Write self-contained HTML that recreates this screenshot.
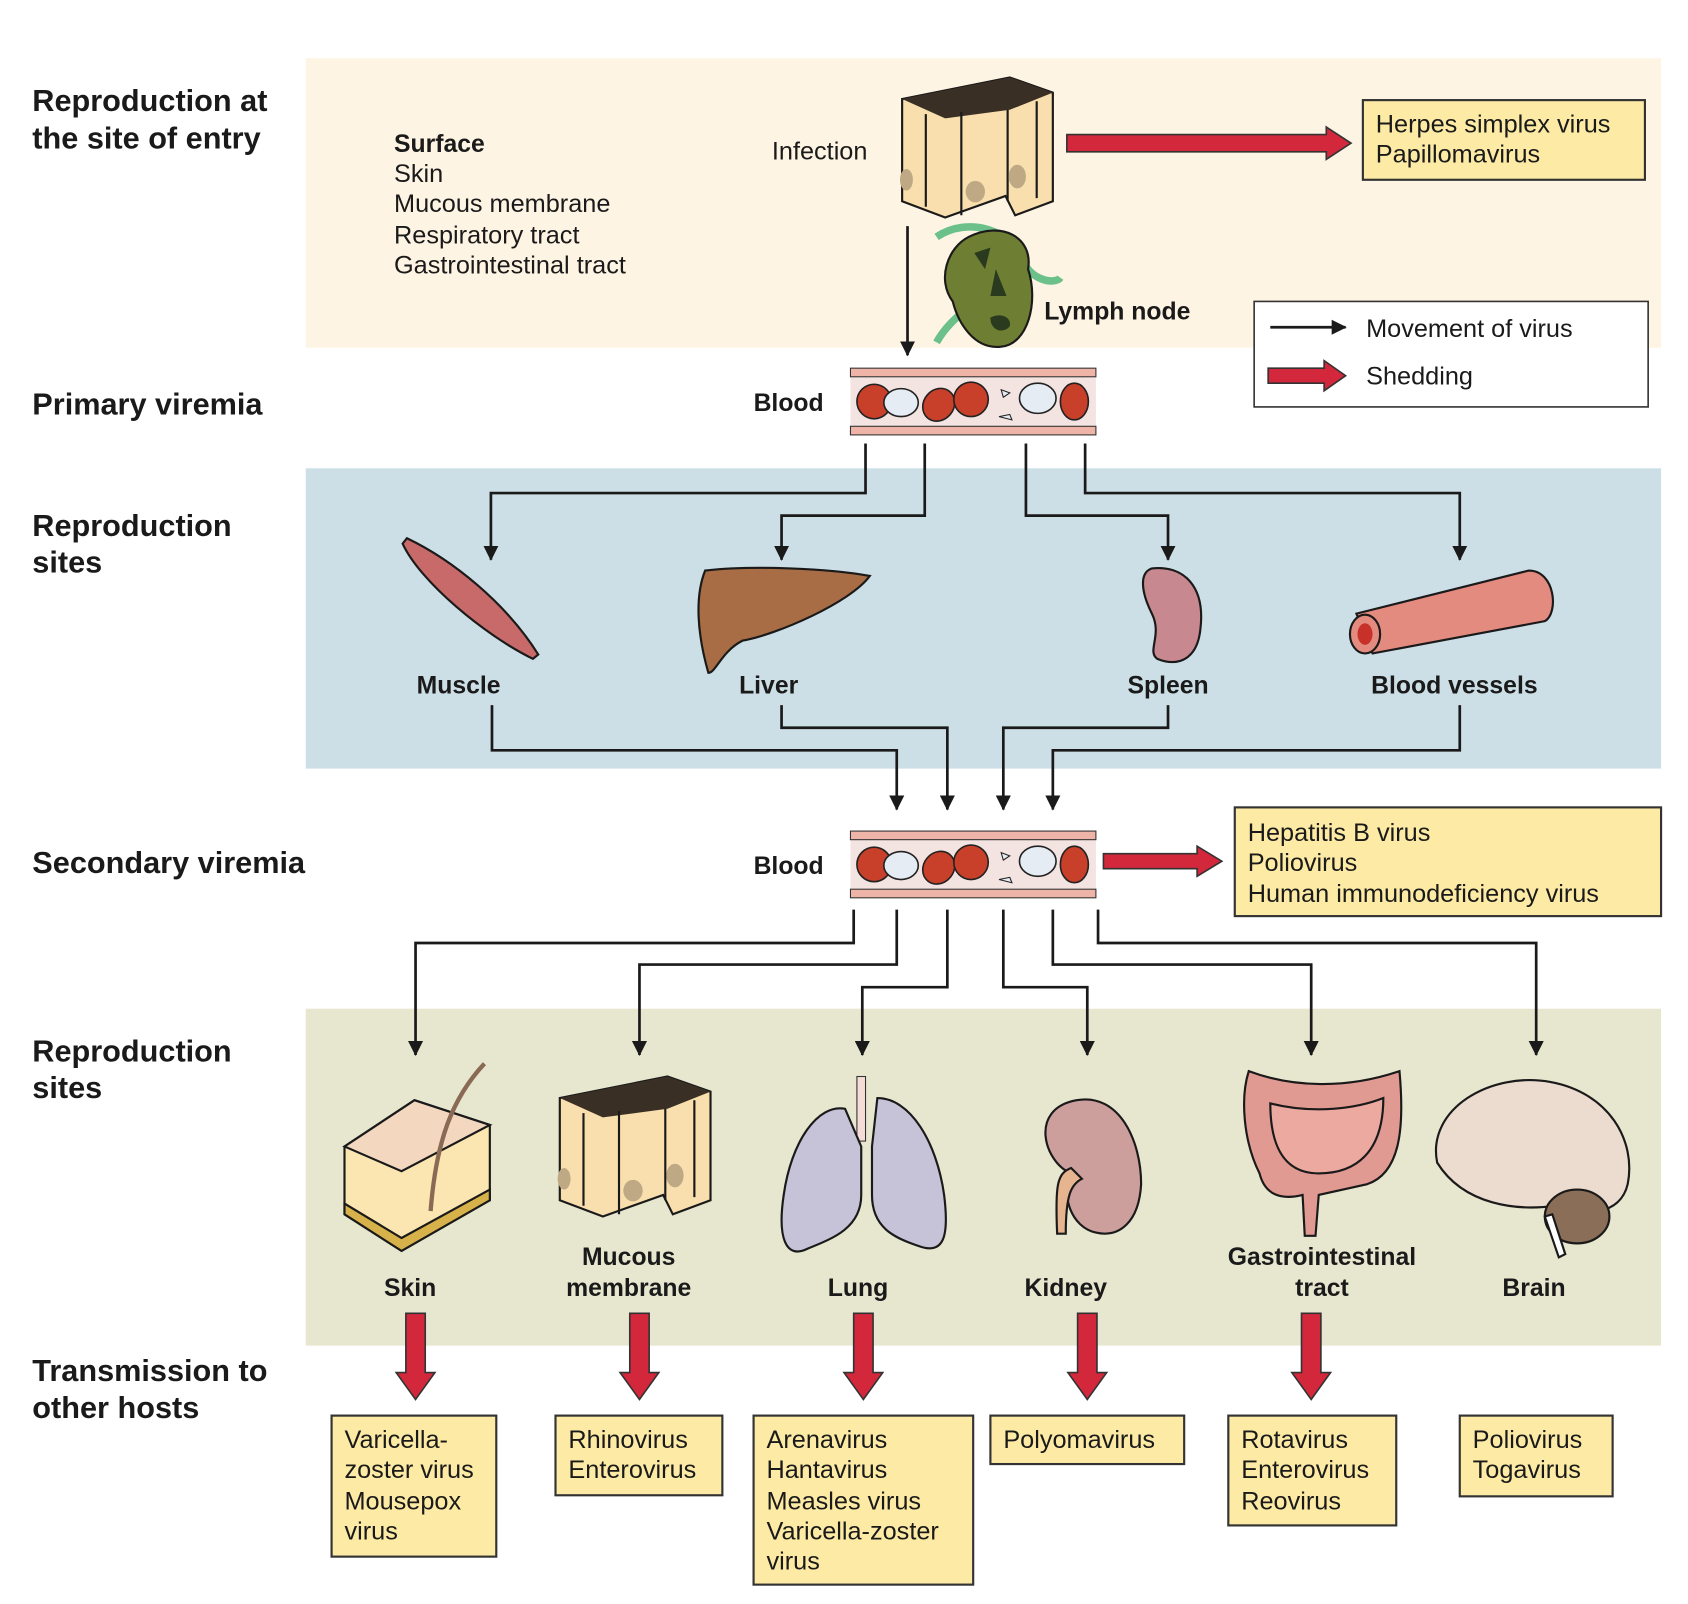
<!DOCTYPE html>
<html><head><meta charset="utf-8"><style>
html,body{margin:0;padding:0;background:#fff}
svg{display:block}
text{font-family:"Liberation Sans",sans-serif;fill:#1a1a1a}
.h{font-size:28.5px;font-weight:bold}
.b{font-size:23.5px}
.lb{font-size:23px;font-weight:bold}
.box{fill:#fdeba5;stroke:#333;stroke-width:2}
.ln{stroke:#1a1a1a;stroke-width:2.5;fill:none}
.red{fill:#d3283c;stroke:#333;stroke-width:1.5}
.org{stroke:#1a1a1a;stroke-width:2}
</style></head><body>
<svg width="1688" height="1604" viewBox="0 0 1568 1490" xmlns="http://www.w3.org/2000/svg">
<defs>
<marker id="ah" markerWidth="14" markerHeight="14" refX="13" refY="7" orient="auto" markerUnits="userSpaceOnUse" viewBox="0 0 14 14">
<path d="M0,0 L14,7 L0,14 z" fill="#1a1a1a"/></marker>
<g id="blood">
<rect x="0" y="0" width="228" height="62" fill="#f3e4e2"/>
<rect x="0" y="0" width="228" height="8" fill="#eeb4a8" stroke="#333" stroke-width="1"/>
<rect x="0" y="54" width="228" height="8" fill="#eeb4a8" stroke="#333" stroke-width="1"/>
<ellipse cx="22" cy="31" rx="16" ry="16" fill="#c8402a" stroke="#222" stroke-width="1.5"/>
<ellipse cx="47" cy="32" rx="16" ry="13" fill="#e6ecf4" stroke="#222" stroke-width="1.5"/>
<ellipse cx="82" cy="34" rx="14" ry="16" fill="#c8402a" stroke="#222" stroke-width="1.5" transform="rotate(40 82 34)"/>
<ellipse cx="112" cy="29" rx="16" ry="16" fill="#c8402a" stroke="#222" stroke-width="1.5"/>
<ellipse cx="174" cy="28" rx="17" ry="14" fill="#e6ecf4" stroke="#222" stroke-width="1.5"/>
<ellipse cx="208" cy="31" rx="13" ry="17" fill="#c8402a" stroke="#222" stroke-width="1.5"/>
<path d="M140,20 l8,3 l-6,4 z M138,45 l10,-2 l2,5 z" fill="#e6ecf4" stroke="#222"/>
</g>
<g id="epi">
<path d="M0,20 L100,0 L140,14 L140,115 L105,128 L96,110 L40,130 L0,115 z" fill="#f9dfae" stroke="#1a1a1a" stroke-width="2"/>
<path d="M0,20 L100,0 L140,14 L100,30 L40,38 z" fill="#3a2f25"/>
<path d="M22,34 V120 M55,32 V128 M98,30 V115 M125,22 V112" stroke="#1a1a1a" stroke-width="2" fill="none"/>
<ellipse cx="68" cy="106" rx="9" ry="10" fill="#bfa984"/>
<ellipse cx="107" cy="92" rx="8" ry="11" fill="#bfa984"/>
<ellipse cx="4" cy="95" rx="6" ry="10" fill="#bfa984"/>
</g>
<g id="dn"><path d="M-9,0 H9 V55 H18 L0,80 L-18,55 H-9 z" class="red"/></g>
</defs>

<rect x="284" y="54" width="1259" height="269" fill="#fef4e3"/>
<rect x="284" y="435" width="1259" height="279" fill="#cddfe6"/>
<rect x="284" y="937" width="1259" height="313" fill="#e7e6cf"/>

<text class="h" x="30" y="103">Reproduction at</text>
<text class="h" x="30" y="138">the site of entry</text>
<text class="h" x="30" y="385">Primary viremia</text>
<text class="h" x="30" y="498">Reproduction</text>
<text class="h" x="30" y="532">sites</text>
<text class="h" x="30" y="811">Secondary viremia</text>
<text class="h" x="30" y="986">Reproduction</text>
<text class="h" x="30" y="1020">sites</text>
<text class="h" x="30" y="1283">Transmission to</text>
<text class="h" x="30" y="1317">other hosts</text>

<text class="lb" x="366" y="141">Surface</text>
<text class="b" x="366" y="169">Skin</text>
<text class="b" x="366" y="197">Mucous membrane</text>
<text class="b" x="366" y="226">Respiratory tract</text>
<text class="b" x="366" y="254">Gastrointestinal tract</text>
<text class="b" x="717" y="148">Infection</text>

<use href="#epi" x="838" y="72"/>
<path d="M991,125 H1232 V118 L1255,133 L1232,148 V141 H991 z" class="red"/>
<rect class="box" x="1266" y="93" width="262" height="74"/>
<text class="b" x="1278" y="123">Herpes simplex virus</text>
<text class="b" x="1278" y="151">Papillomavirus</text>

<line class="ln" x1="843" y1="210" x2="843" y2="330" marker-end="url(#ah)"/>
<path d="M870,220 C900,200 940,215 950,240 C955,260 980,265 985,258 M870,318 C880,300 895,290 905,280" stroke="#6cc08a" stroke-width="7" fill="none"/>
<path d="M900,220 C930,205 960,220 955,250 C965,280 955,320 930,322 C905,325 890,300 885,280 C870,260 880,230 900,220 z" fill="#6e7e32" stroke="#1a1a1a" stroke-width="2"/>
<path d="M905,235 l15,-5 l-5,20 z M925,250 l10,25 l-15,0 z M920,295 c10,-5 20,0 18,8 c-5,7 -18,5 -18,-8 z" fill="#2a3a1e"/>
<text class="lb" x="970" y="297">Lymph node</text>

<rect x="1165" y="280" width="366" height="98" fill="#fff" stroke="#333" stroke-width="1.5"/>
<line class="ln" x1="1180" y1="304" x2="1250" y2="304" marker-end="url(#ah)"/>
<text class="b" x="1269" y="313">Movement of virus</text>
<path d="M1178,342 H1230 V335 L1250,349 L1230,363 V356 H1178 z" class="red"/>
<text class="b" x="1269" y="357">Shedding</text>

<use href="#blood" x="790" y="342"/>
<text class="lb" x="700" y="382">Blood</text>

<path class="ln" d="M804,412 V458 H456 V520" marker-end="url(#ah)"/>
<path class="ln" d="M859,412 V479 H726 V520" marker-end="url(#ah)"/>
<path class="ln" d="M953,412 V479 H1085 V520" marker-end="url(#ah)"/>
<path class="ln" d="M1008,412 V458 H1356 V520" marker-end="url(#ah)"/>

<path d="M378,500 C420,520 470,560 500,608 L495,612 C450,590 390,540 374,505 z" fill="#c86a6a" class="org"/>
<path d="M655,530 C700,525 770,528 808,535 C790,560 720,590 690,595 C670,605 665,625 658,625 C648,590 645,555 655,530 z" fill="#a86d45" class="org"/>
<path d="M1070,528 C1100,525 1120,545 1115,585 C1112,612 1095,620 1075,612 C1065,605 1080,590 1070,570 C1060,550 1058,532 1070,528 z" fill="#c88890" class="org"/>
<path d="M1260,570 L1420,530 C1445,530 1448,570 1435,577 L1275,607 z" fill="#e48b80" class="org"/>
<ellipse cx="1268" cy="589" rx="14" ry="18" fill="#e48b80" class="org"/>
<ellipse cx="1268" cy="589" rx="7" ry="10" fill="#c8302a"/>

<text class="lb" x="426" y="644" text-anchor="middle">Muscle</text>
<text class="lb" x="714" y="644" text-anchor="middle">Liver</text>
<text class="lb" x="1085" y="644" text-anchor="middle">Spleen</text>
<text class="lb" x="1351" y="644" text-anchor="middle">Blood vessels</text>

<path class="ln" d="M457,655 V697 H833 V752" marker-end="url(#ah)"/>
<path class="ln" d="M726,655 V676 H880 V752" marker-end="url(#ah)"/>
<path class="ln" d="M1085,655 V676 H932 V752" marker-end="url(#ah)"/>
<path class="ln" d="M1356,655 V697 H978 V752" marker-end="url(#ah)"/>

<use href="#blood" x="790" y="772"/>
<text class="lb" x="700" y="812">Blood</text>
<path d="M1025,793 H1112 V786 L1135,800 L1112,814 V807 H1025 z" class="red"/>
<rect class="box" x="1147" y="750" width="396" height="101"/>
<text class="b" x="1159" y="781">Hepatitis B virus</text>
<text class="b" x="1159" y="809">Poliovirus</text>
<text class="b" x="1159" y="838">Human immunodeficiency virus</text>

<path class="ln" d="M793,845 V876 H386 V980" marker-end="url(#ah)"/>
<path class="ln" d="M833,845 V896 H594 V980" marker-end="url(#ah)"/>
<path class="ln" d="M880,845 V917 H801 V980" marker-end="url(#ah)"/>
<path class="ln" d="M932,845 V917 H1010 V980" marker-end="url(#ah)"/>
<path class="ln" d="M978,845 V896 H1218 V980" marker-end="url(#ah)"/>
<path class="ln" d="M1020,845 V876 H1427 V980" marker-end="url(#ah)"/>

<path d="M320,1065 L385,1022 L455,1045 L455,1115 L373,1162 L320,1128 z" fill="#fbe5b0" class="org"/>
<path d="M320,1065 L385,1022 L455,1045 L373,1088 z" fill="#f3d7bf" class="org"/>
<path d="M320,1128 L373,1162 L455,1115 V1105 L373,1150 L320,1118 z" fill="#d7b24a" class="org"/>
<path d="M400,1125 C405,1060 420,1020 450,988" stroke="#8a6a55" stroke-width="4" fill="none"/>
<use href="#epi" x="520" y="1000"/>
<rect x="796" y="1000" width="8" height="60" fill="#f6dcd6" stroke="#333"/>
<path d="M785,1030 C760,1025 735,1060 728,1110 C722,1150 730,1170 750,1160 C775,1150 800,1140 800,1110 L800,1065 z" fill="#c6c2d8" class="org"/>
<path d="M815,1020 C845,1020 870,1060 877,1110 C882,1150 876,1165 855,1158 C830,1150 810,1140 810,1110 L810,1065 z" fill="#c6c2d8" class="org"/>
<path d="M1000,1022 C1040,1015 1060,1060 1060,1100 C1058,1135 1040,1150 1018,1145 C995,1140 985,1110 995,1090 C970,1080 955,1030 1000,1022 z" fill="#cc9e9c" class="org"/>
<path d="M995,1085 C982,1090 980,1100 982,1146 H990 C990,1110 995,1100 1005,1095 z" fill="#e6b48e" class="org"/>
<path d="M1160,995 C1200,1010 1250,1012 1300,995 C1305,1050 1300,1090 1270,1100 L1225,1110 L1222,1148 H1212 L1210,1110 C1190,1115 1175,1110 1170,1090 C1155,1060 1152,1020 1160,995 z" fill="#e19a92" class="org"/>
<path d="M1180,1025 C1220,1035 1260,1030 1285,1020 C1285,1070 1260,1090 1225,1090 C1190,1090 1180,1060 1180,1025 z" fill="#eba9a0" class="org"/>
<path d="M1335,1080 C1325,1030 1385,995 1440,1005 C1495,1015 1520,1060 1512,1100 C1505,1130 1470,1130 1445,1120 C1410,1125 1360,1120 1335,1080 z" fill="#ecdcd0" class="org"/>
<ellipse cx="1465" cy="1130" rx="30" ry="25" fill="#8a6e58" class="org"/>
<path d="M1435,1130 L1448,1168 L1454,1165 L1442,1128 z" fill="#fff" class="org"/>

<text class="lb" x="381" y="1204" text-anchor="middle">Skin</text>
<text class="lb" x="584" y="1175" text-anchor="middle">Mucous</text>
<text class="lb" x="584" y="1204" text-anchor="middle">membrane</text>
<text class="lb" x="797" y="1204" text-anchor="middle">Lung</text>
<text class="lb" x="990" y="1204" text-anchor="middle">Kidney</text>
<text class="lb" x="1228" y="1175" text-anchor="middle">Gastrointestinal</text>
<text class="lb" x="1228" y="1204" text-anchor="middle">tract</text>
<text class="lb" x="1425" y="1204" text-anchor="middle">Brain</text>

<use href="#dn" x="386" y="1220"/>
<use href="#dn" x="594" y="1220"/>
<use href="#dn" x="802" y="1220"/>
<use href="#dn" x="1010" y="1220"/>
<use href="#dn" x="1218" y="1220"/>

<rect class="box" x="308" y="1315" width="153" height="131"/>
<text class="b" x="320" y="1345">Varicella-</text>
<text class="b" x="320" y="1373">zoster virus</text>
<text class="b" x="320" y="1402">Mousepox</text>
<text class="b" x="320" y="1430">virus</text>
<rect class="box" x="516" y="1315" width="155" height="74"/>
<text class="b" x="528" y="1345">Rhinovirus</text>
<text class="b" x="528" y="1373">Enterovirus</text>
<rect class="box" x="700" y="1315" width="204" height="157"/>
<text class="b" x="712" y="1345">Arenavirus</text>
<text class="b" x="712" y="1373">Hantavirus</text>
<text class="b" x="712" y="1402">Measles virus</text>
<text class="b" x="712" y="1430">Varicella-zoster</text>
<text class="b" x="712" y="1458">virus</text>
<rect class="box" x="920" y="1315" width="180" height="45"/>
<text class="b" x="932" y="1345">Polyomavirus</text>
<rect class="box" x="1141" y="1315" width="156" height="102"/>
<text class="b" x="1153" y="1345">Rotavirus</text>
<text class="b" x="1153" y="1373">Enterovirus</text>
<text class="b" x="1153" y="1402">Reovirus</text>
<rect class="box" x="1356" y="1315" width="142" height="75"/>
<text class="b" x="1368" y="1345">Poliovirus</text>
<text class="b" x="1368" y="1373">Togavirus</text>
</svg>
</body></html>
